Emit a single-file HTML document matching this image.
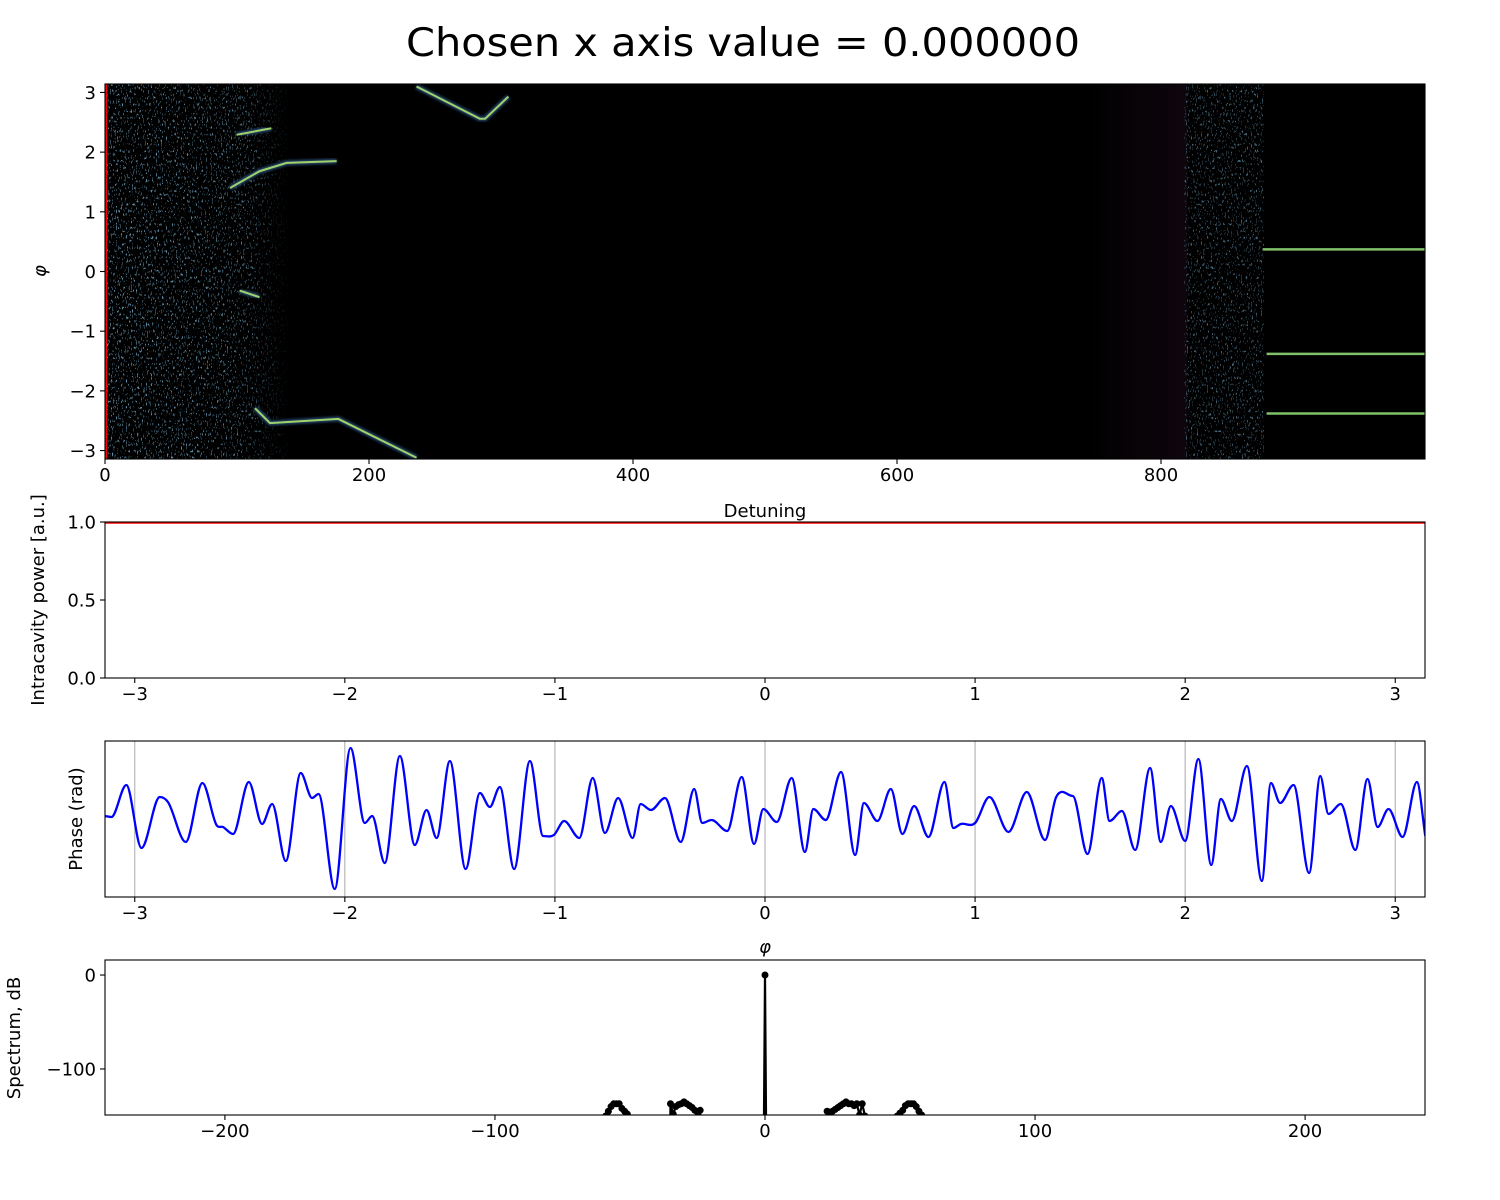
<!DOCTYPE html>
<html><head><meta charset="utf-8">
<style>
html,body{margin:0;padding:0;background:#fff;overflow:hidden;width:1500px;height:1200px;}
svg{display:block;font-family:"DejaVu Sans","Liberation Sans",sans-serif;}
</style></head>
<body>
<svg id="fig" width="1500" height="1200" viewBox="0 0 1500 1200" xmlns="http://www.w3.org/2000/svg">
<defs>
<filter id="speckle" x="0" y="0" width="100%" height="100%">
<feTurbulence type="fractalNoise" baseFrequency="0.8 0.3" numOctaves="2" seed="7" result="n"/>
<feColorMatrix in="n" type="matrix" values="0 0 0 0 0.12  0 0 0 0 0.28  0 0 0 0 0.40  0 0 0 16 -10.2"/>
</filter>
<filter id="glow"><feGaussianBlur stdDeviation="1.2"/></filter>
<linearGradient id="purple" x1="0" x2="1" y1="0" y2="0">
<stop offset="0" stop-color="#000"/><stop offset="1" stop-color="#0e060d"/>
</linearGradient>
<linearGradient id="fadeL" x1="0" x2="1" y1="0" y2="0">
<stop offset="0" stop-color="#fff" stop-opacity="1"/><stop offset="0.75" stop-color="#fff" stop-opacity="0.8"/><stop offset="1" stop-color="#fff" stop-opacity="0"/>
</linearGradient>
<mask id="mL"><rect x="105" y="84" width="185" height="375" fill="url(#fadeL)"/></mask>
<clipPath id="c1"><rect x="105" y="84" width="1320" height="375"/></clipPath>
<clipPath id="c3"><rect x="105" y="741" width="1320" height="156"/></clipPath>
<clipPath id="c4"><rect x="105" y="960" width="1320" height="155"/></clipPath>
</defs>
<text x="743" y="56" font-size="39" text-anchor="middle" textLength="674" lengthAdjust="spacingAndGlyphs">Chosen x axis value = 0.000000</text>
<g id="p1"></g>
<g id="p2"></g>
<g id="p3"></g>
<g id="p4"></g>
</svg>
<script>
// ---------- data ----------
const heatXTicks=[0,200,400,600,800];
const heatYTicks=[-3,-2,-1,0,1,2,3];
const traceA_d=[94.7,117,137.6,175.5];      const traceA_phi=[1.40,1.68,1.82,1.85];
const traceB_d=[99.7,126];                  const traceB_phi=[2.29,2.40];
const traceC_d=[236,284,288,305.6];         const traceC_phi=[3.10,2.56,2.56,2.93];
const traceD_d=[113.6,125,176.8,236];       const traceD_phi=[-2.29,-2.54,-2.47,-3.12];
const traceE_d=[102,117];                   const traceE_phi=[-0.32,-0.43];
const flatLinePhi=[0.37,-1.38,-2.38];
const flatLineStart=[877,880,880];
const chosenX=0;
const phiTicks=[-3,-2,-1,0,1,2,3];
const powerTicks=[0.0,0.5,1.0];
const powerPhi=[-Math.PI,Math.PI];
const powerVal=[1.0,1.0];
const phasePhi=[-3.143,-3.111,-3.040,-2.968,-2.881,-2.842,-2.757,-2.678,-2.611,-2.580,-2.532,-2.457,-2.394,-2.346,-2.281,-2.210,-2.156,-2.125,-2.048,-1.973,-1.905,-1.870,-1.810,-1.738,-1.667,-1.611,-1.563,-1.500,-1.425,-1.357,-1.310,-1.262,-1.194,-1.119,-1.056,-1.005,-0.956,-0.884,-0.820,-0.762,-0.699,-0.630,-0.592,-0.543,-0.476,-0.401,-0.337,-0.299,-0.254,-0.180,-0.111,-0.052,-0.008,0.056,0.127,0.190,0.230,0.289,0.362,0.429,0.471,0.535,0.599,0.654,0.710,0.778,0.854,0.897,0.932,1.000,1.068,1.159,1.246,1.333,1.386,1.465,1.535,1.603,1.640,1.699,1.762,1.833,1.884,1.932,2.000,2.063,2.124,2.170,2.222,2.294,2.365,2.408,2.452,2.516,2.590,2.643,2.682,2.741,2.810,2.868,2.916,2.968,3.035,3.103,3.143];
const phaseVal=[0.81,0.80,1.12,0.49,1.00,0.95,0.55,1.14,0.72,0.70,0.63,1.15,0.73,0.93,0.36,1.24,0.99,1.03,0.08,1.49,0.74,0.81,0.34,1.41,0.52,0.87,0.59,1.36,0.28,1.04,0.90,1.10,0.28,1.36,0.61,0.62,0.76,0.59,1.19,0.64,0.99,0.59,0.93,0.87,0.99,0.55,1.08,0.74,0.77,0.66,1.20,0.53,0.88,0.75,1.19,0.45,0.88,0.77,1.25,0.42,0.94,0.76,1.08,0.63,0.91,0.60,1.15,0.69,0.73,0.74,1.00,0.65,1.05,0.57,1.00,1.01,0.43,1.19,0.76,0.86,0.47,1.29,0.55,0.91,0.56,1.38,0.32,0.98,0.76,1.31,0.16,1.14,0.94,1.12,0.24,1.21,0.83,0.93,0.47,1.18,0.70,0.88,0.60,1.15,0.61,0.76];
const specTicksX=[-200,-100,0,100,200];
const specTicksY=[-100,0];
const specFreq=[-59,-58,-57,-56,-55,-54,-53,-52,-51,-35,-34,-33,-32,-31,-30,-29,-28,-27,-26,-25,-24,0,23,24,25,26,27,28,29,30,31,32,33,34,35,36,37,49,50,51,52,53,54,55,56,57,58];
const specDB=[-150,-145,-140,-137,-137,-137,-142,-145,-148,-137,-148,-140,-138,-137,-135,-137,-139,-141,-144,-146,-144,0,-145,-146,-145,-143,-141,-139,-137,-135,-137,-137,-139,-137,-149,-137,-150,-150,-147,-144,-139,-137,-137,-137,-140,-145,-149];
const specFloor=-400;

// ---------- helpers ----------
const NS="http://www.w3.org/2000/svg";
function mk(parent,tag,attrs){const e=document.createElementNS(NS,tag);for(const k in attrs)e.setAttribute(k,attrs[k]);parent.appendChild(e);return e;}
function lin(d0,d1,r0,r1){return v=>r0+(v-d0)/(d1-d0)*(r1-r0);}
function frameAxes(g,L,T,R,B,name){
  const f=mk(g,'rect',{x:L,y:T,width:R-L,height:B-T,fill:'none',stroke:'#000','stroke-width':1.1});
  
  
}
function xTicks(g,ticks,sx,B,fmt,name){
  ticks.forEach(t=>{const x=sx(t);
    const l=mk(g,'line',{x1:x,x2:x,y1:B,y2:B+5,stroke:'#000','stroke-width':1.1});
    
    
    const tx=mk(g,'text',{x:x,y:B+22,'font-size':18,'text-anchor':'middle'});tx.textContent=fmt(t);
    
    
  });
}
function yTicks(g,ticks,sy,L,fmt,name){
  ticks.forEach(t=>{const y=sy(t);
    const l=mk(g,'line',{x1:L-5,x2:L,y1:y,y2:y,stroke:'#000','stroke-width':1.1});
    
    
    const tx=mk(g,'text',{x:L-9,y:y+6.5,'font-size':18,'text-anchor':'end'});tx.textContent=fmt(t);
    
    
  });
}
const mfmt=t=>(t<0?'\u2212'+Math.abs(t):String(t));
function label(g,x,y,txt,rot,name,italic){
  const t=mk(g,'text',{x:x,y:y,'font-size':18,'text-anchor':'middle'});
  if(rot)t.setAttribute('transform','rotate(-90 '+x+' '+y+')');
  if(italic)t.setAttribute('font-style','italic');
  t.textContent=txt;
  
  
}

// ---------- panel 1: heatmap ----------
(function(){
  const g=document.getElementById('p1');
  const L=105,R=1425,T=84,B=459;
  const sx=lin(0,1000,L,R), sy=lin(-Math.PI,Math.PI,B,T);
  const cg=mk(g,'g',{'clip-path':'url(#c1)'});
  mk(cg,'rect',{x:L,y:T,width:R-L,height:B-T,fill:'#000'});
  mk(cg,'rect',{x:sx(740),y:T,width:sx(820)-sx(740),height:B-T,fill:'url(#purple)'});
  const mg=mk(cg,'g',{mask:'url(#mL)'});
  const n1=mk(mg,'rect',{x:sx(0),y:T,width:sx(140)-sx(0),height:B-T,fill:'#000',filter:'url(#speckle)'});
  
  
  const n2=mk(cg,'rect',{x:sx(818),y:T,width:sx(878)-sx(818),height:B-T,fill:'#000',filter:'url(#speckle)',opacity:0.7});
  
  
  const traces=[[traceA_d,traceA_phi],[traceB_d,traceB_phi],[traceC_d,traceC_phi],[traceD_d,traceD_phi],[traceE_d,traceE_phi]];
  traces.forEach((tr,i)=>{
    const pts=tr[0].map((d,k)=>sx(d)+','+sy(tr[1][k])).join(' ');
    mk(cg,'polyline',{points:pts,fill:'none',stroke:'#27466e','stroke-width':5,filter:'url(#glow)'});
    const p=mk(cg,'polyline',{points:pts,fill:'none',stroke:'#9fd26a','stroke-width':2});
    
    
  });
  flatLinePhi.forEach((ph,i)=>{
    const y=sy(ph);
    mk(cg,'line',{x1:sx(flatLineStart[i]),x2:R,y1:y,y2:y,stroke:'#27466e','stroke-width':6,filter:'url(#glow)'});
    const l=mk(cg,'line',{x1:sx(flatLineStart[i]),x2:R,y1:y,y2:y,stroke:'#7fc26a','stroke-width':2.5});
    
    
  });
  const cl=mk(cg,'line',{x1:sx(chosenX)+1,x2:sx(chosenX)+1,y1:T,y2:B,stroke:'#ff0000','stroke-width':2});
  
  
  frameAxes(g,L,T,R,B,'heatmap');
  xTicks(g,heatXTicks,sx,B,mfmt,'heatmap-x');
  yTicks(g,heatYTicks,sy,L,mfmt,'heatmap-y');
  label(g,765,517,'Detuning',false,'heatmap-x-axis-title');
  label(g,46,271,'\u03c6',true,'heatmap-y-axis-title',true);
})();

// ---------- panel 2: power ----------
(function(){
  const g=document.getElementById('p2');
  const L=105,R=1425,T=522,B=678;
  const sx=lin(-Math.PI,Math.PI,L,R), sy=lin(0,1,B,T);
  const pts=powerPhi.map((p,i)=>sx(p)+','+(sy(powerVal[i])+1)).join(' ');
  const pl=mk(g,'polyline',{points:pts,fill:'none',stroke:'#ff0000','stroke-width':1.5});
  
  
  frameAxes(g,L,T,R,B,'power');
  xTicks(g,phiTicks,sx,B,mfmt,'power-x');
  yTicks(g,powerTicks,sy,L,t=>t.toFixed(1),'power-y');
  label(g,44,600,'Intracavity power [a.u.]',true,'power-y-axis-title');
})();

// ---------- panel 3: phase ----------
(function(){
  const g=document.getElementById('p3');
  const L=105,R=1425,T=741,B=897;
  const sx=lin(-Math.PI,Math.PI,L,R), sy=lin(0,1.56,B,T);
  phiTicks.forEach(t=>{const gl=mk(g,'line',{x1:sx(t),x2:sx(t),y1:T,y2:B,stroke:'#b0b0b0','stroke-width':1.1});
    
    });
  const n=phasePhi.length, xs=phasePhi, ys=phaseVal;
  const dl=[],m=[];
  for(let i=0;i<n-1;i++)dl.push((ys[i+1]-ys[i])/(xs[i+1]-xs[i]));
  m[0]=dl[0];m[n-1]=dl[n-2];
  for(let i=1;i<n-1;i++){m[i]=(dl[i-1]*dl[i]<=0)?0:(dl[i-1]+dl[i])/2;}
  let d='';
  for(let i=0;i<n-1;i++){
    const h=xs[i+1]-xs[i];
    const x0=sx(xs[i]),y0=sy(ys[i]),x1=sx(xs[i+1]),y1=sy(ys[i+1]);
    const c1x=sx(xs[i]+h/3),c1y=sy(ys[i]+m[i]*h/3);
    const c2x=sx(xs[i+1]-h/3),c2y=sy(ys[i+1]-m[i+1]*h/3);
    if(i===0)d+='M'+x0+' '+y0;
    d+=' C'+c1x+' '+c1y+' '+c2x+' '+c2y+' '+x1+' '+y1;
  }
  const cg=mk(g,'g',{'clip-path':'url(#c3)'});
  const p=mk(cg,'path',{d:d,fill:'none',stroke:'#0000ff','stroke-width':2.3,'stroke-linejoin':'round'});
  
  
  frameAxes(g,L,T,R,B,'phase');
  xTicks(g,phiTicks,sx,B,mfmt,'phase-x');
  label(g,82,819,'Phase (rad)',true,'phase-y-axis-title');
  label(g,765,953,'\u03c6',false,'phase-x-axis-title',true);
})();

// ---------- panel 4: spectrum ----------
(function(){
  const g=document.getElementById('p4');
  const L=105,R=1425,T=960,B=1115;
  const sx=lin(-244.4,244.4,L,R), sy=lin(-149,16,B,T);
  const lookup={};specFreq.forEach((f,i)=>lookup[f]=specDB[i]);
  const grid=[];for(let f=-245;f<=245;f++)grid.push(f);
  const vals=grid.map(f=>(f in lookup)?lookup[f]:specFloor);
  const cg=mk(g,'g',{'clip-path':'url(#c4)'});
  const pts=grid.map((f,i)=>sx(f)+','+sy(vals[i])).join(' ');
  const pl=mk(cg,'polyline',{points:pts,fill:'none',stroke:'#000','stroke-width':2.2,'stroke-linejoin':'round'});
  
  
  specFreq.forEach((f,i)=>{
    const c=mk(cg,'circle',{cx:sx(f),cy:sy(specDB[i]),r:3.5,fill:'#000'});
    
    
  });
  frameAxes(g,L,T,R,B,'spectrum');
  xTicks(g,specTicksX,sx,B,mfmt,'spectrum-x');
  yTicks(g,specTicksY,sy,L,mfmt,'spectrum-y');
  label(g,20,1038,'Spectrum, dB',true,'spectrum-y-axis-title');
})();
</script>
</body></html>
